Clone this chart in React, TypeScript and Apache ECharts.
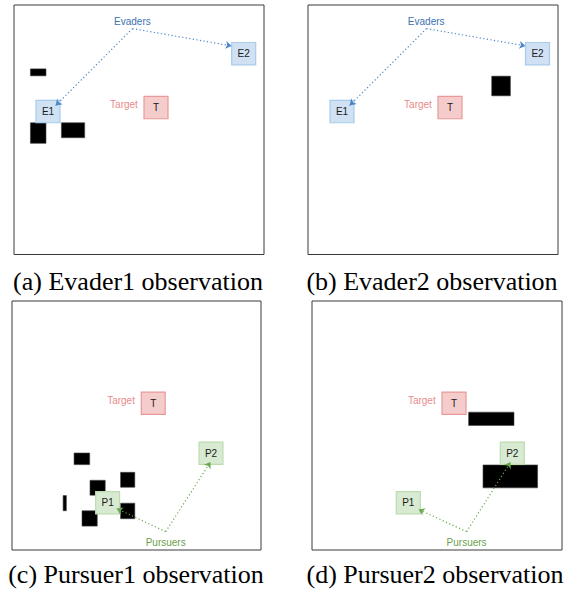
import React, { useEffect, useRef } from "react";
import * as echarts from "echarts";

// Panel coordinate system: 0..250 in x (left→right) and y (top→bottom)
const captions = [
  "(a) Evader1 observation",
  "(b) Evader2 observation",
  "(c) Pursuer1 observation",
  "(d) Pursuer2 observation",
];

// obstacles: [x, y, width, height]
const obstaclesA = [
  [16.4, 64, 15.6, 7],
  [16.4, 118, 15.6, 20.6],
  [47.4, 118, 23.3, 15],
];
const obstaclesB = [[183.7, 71.3, 18.7, 19.7]];
const obstaclesC = [
  [62.3, 152.6, 15.7, 11.7],
  [109, 172, 14.3, 15],
  [78.3, 180, 15.3, 15],
  [51.3, 195.3, 3.3, 15.3],
  [109, 203, 14.3, 15.6],
  [70.3, 210.6, 15.3, 15.4],
];
const obstaclesD = [
  [156.6, 111.6, 45.4, 13.4],
  [171, 164.6, 54.6, 23],
];

// agent boxes: [x, y] top-left corner
const boxLabelsE = ["E1", "E2", "T"];
const boxesA = [[22, 95.6], [217.7, 37.6], [130, 91.6]];
const boxesB = [[22, 95.6], [217.5, 37.6], [130, 91.6]];
const boxLabelsP = ["P1", "P2", "T"];
const boxesC = [[84, 191.3], [187.8, 141.6], [129.8, 91.4]];
const boxesD = [[84.3, 191.3], [188.3, 141.6], [130, 91.4]];

// group labels: [x, y] centre
const textLabelsE = ["Evaders", "Target"];
const textPosA = [[118.4, 17], [110, 100]];
const textPosB = [[118.2, 17], [110, 100]];
const textLabelsP = ["Pursuers", "Target"];
const textPosC = [[154.3, 242], [109.5, 100]];
const textPosD = [[154.6, 242], [109.8, 100]];

// arrows: [x0, y0, x1, y1]
const arrowsA = [
  [118.5, 23.6, 217.6, 41],
  [118.5, 23.6, 41.7, 100.8],
];
const arrowsB = [
  [118.5, 23.6, 217.4, 41],
  [118.5, 23.6, 41.7, 100.6],
];
const arrowsC = [
  [154.3, 231.6, 199.3, 161.6],
  [154.3, 231.6, 105, 208.3],
];
const arrowsD = [
  [154.6, 231.6, 198.6, 161.6],
  [154.6, 231.6, 106.6, 209.3],
];

const BOX_W = 24;
const BOX_H = 22.4;

const boxColors: Record<string, { fill: string; stroke: string }> = {
  E: { fill: "#cfe1f3", stroke: "#a8cbec" },
  P: { fill: "#d9ead3", stroke: "#bcdcae" },
  T: { fill: "#f4cccc", stroke: "#ea9999" },
};
const textColors: Record<string, string> = {
  Evaders: "#3a72b0",
  Pursuers: "#6a9f4c",
  Target: "#e98b8b",
};

const panels = [
  { grid: { left: 14, top: 5, width: 250, height: 249.5 }, obs: obstaclesA, boxes: boxesA, boxLabels: boxLabelsE, texts: textPosA, textLabels: textLabelsE, arrows: arrowsA, arrowColor: "#4a86c8", caption: [138, 281] },
  { grid: { left: 308, top: 5, width: 250, height: 249.5 }, obs: obstaclesB, boxes: boxesB, boxLabels: boxLabelsE, texts: textPosB, textLabels: textLabelsE, arrows: arrowsB, arrowColor: "#4a86c8", caption: [432, 281] },
  { grid: { left: 12, top: 301, width: 249, height: 249 }, obs: obstaclesC, boxes: boxesC, boxLabels: boxLabelsP, texts: textPosC, textLabels: textLabelsP, arrows: arrowsC, arrowColor: "#6aa84f", caption: [136, 574] },
  { grid: { left: 312, top: 301, width: 250, height: 249 }, obs: obstaclesD, boxes: boxesD, boxLabels: boxLabelsP, texts: textPosD, textLabels: textLabelsP, arrows: arrowsD, arrowColor: "#6aa84f", caption: [435, 574] },
];

export default function App() {
  const ref = useRef<HTMLDivElement>(null);
  useEffect(() => {
    if (!ref.current) return;
    const chart = echarts.init(ref.current, undefined, { renderer: "svg" });
    const grids: any[] = [];
    const xAxes: any[] = [];
    const yAxes: any[] = [];
    const series: any[] = [];
    panels.forEach((p, i) => {
      grids.push({
        ...p.grid,
        show: true,
        borderColor: "#3a3a3a",
        borderWidth: 1,
        backgroundColor: "#fff",
        containLabel: false,
      });
      xAxes.push({ type: "value", gridIndex: i, min: 0, max: 250, show: false });
      yAxes.push({ type: "value", gridIndex: i, min: 0, max: 250, inverse: true, show: false });
      // obstacles
      series.push({
        type: "custom",
        xAxisIndex: i,
        yAxisIndex: i,
        clip: false,
        z: 2,
        data: p.obs,
        renderItem: (params: any, api: any) => {
          const x = api.value(0), y = api.value(1), w = api.value(2), h = api.value(3);
          const p0 = api.coord([x, y]);
          const p1 = api.coord([x + w, y + h]);
          return {
            type: "rect",
            shape: { x: p0[0], y: p0[1], width: p1[0] - p0[0], height: p1[1] - p0[1] },
            style: { fill: "#000", stroke: "#444", lineWidth: 0.6 },
          };
        },
      });
      // agent boxes
      series.push({
        type: "custom",
        xAxisIndex: i,
        yAxisIndex: i,
        clip: false,
        z: 3,
        data: p.boxes,
        renderItem: (params: any, api: any) => {
          const x = api.value(0), y = api.value(1);
          const label = p.boxLabels[params.dataIndex];
          const c = boxColors[label[0]];
          const p0 = api.coord([x, y]);
          const p1 = api.coord([x + BOX_W, y + BOX_H]);
          return {
            type: "rect",
            shape: { x: p0[0], y: p0[1], width: p1[0] - p0[0], height: p1[1] - p0[1] },
            style: { fill: c.fill, stroke: c.stroke, lineWidth: 1.2 },
            textContent: {
              style: { text: label, fill: "#1a1a1a", font: '10px "Liberation Sans", Arial, sans-serif' },
            },
            textConfig: { position: "inside" },
          };
        },
      });
      // arrows
      series.push({
        type: "lines",
        coordinateSystem: "cartesian2d",
        xAxisIndex: i,
        yAxisIndex: i,
        z: 4,
        silent: true,
        symbol: ["none", "arrow"],
        symbolSize: 6,
        lineStyle: { color: p.arrowColor, width: 1.2, type: [1.2, 2.4], opacity: 1, curveness: 0 },
        data: p.arrows.map((a) => ({ coords: [[a[0], a[1]], [a[2], a[3]]] })),
      });
      // group labels
      series.push({
        type: "custom",
        xAxisIndex: i,
        yAxisIndex: i,
        clip: false,
        z: 5,
        data: p.texts,
        renderItem: (params: any, api: any) => {
          const pt = api.coord([api.value(0), api.value(1)]);
          const label = p.textLabels[params.dataIndex];
          return {
            type: "text",
            x: pt[0],
            y: pt[1],
            style: {
              text: label,
              fill: textColors[label],
              font: '10px "Liberation Sans", Arial, sans-serif',
              align: "center",
              verticalAlign: "middle",
            },
          };
        },
      });
    });
    const graphic = panels.map((p, i) => ({
      type: "text",
      x: p.caption[0],
      y: p.caption[1],
      style: {
        text: captions[i],
        fill: "#000",
        font: '26px "Liberation Serif", "Times New Roman", serif',
        align: "center",
        verticalAlign: "middle",
      },
    }));
    chart.setOption({
      animation: false,
      backgroundColor: "#fff",
      grid: grids,
      xAxis: xAxes,
      yAxis: yAxes,
      series,
      graphic,
    });
    return () => chart.dispose();
  }, []);
  return (
    <div
      ref={ref}
      style={{ position: "absolute", left: 0, top: 0, width: 571, height: 593 }}
    />
  );
}
